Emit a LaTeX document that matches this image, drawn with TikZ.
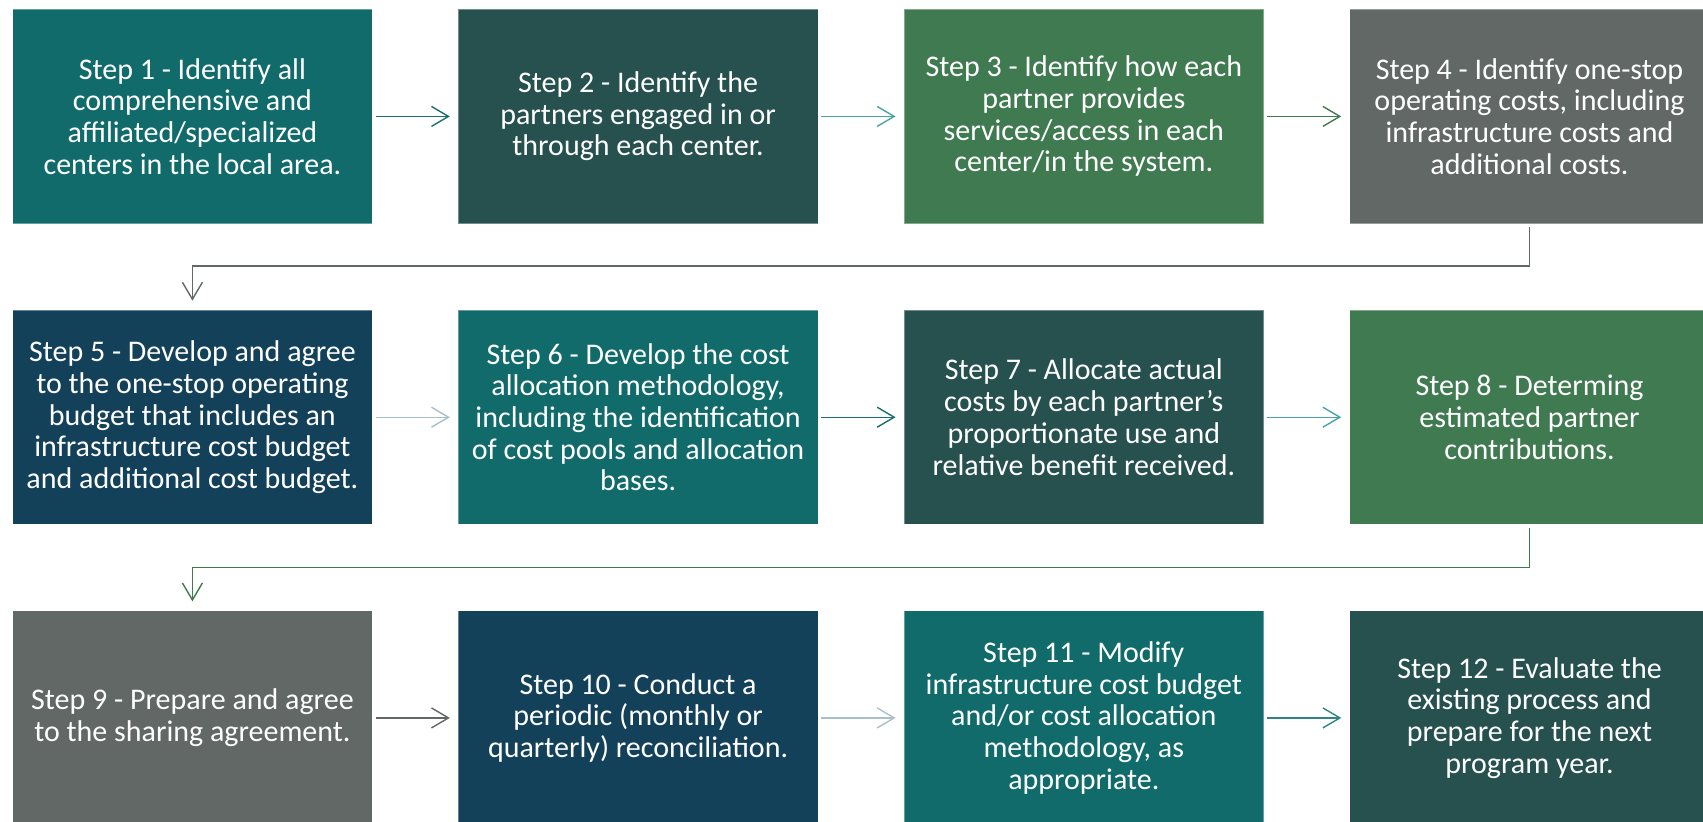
\documentclass[tikz,border=0pt]{standalone}
\usepackage{fontspec}
\setmainfont{Carlito}
\usetikzlibrary{arrows.meta}
\definecolor{cteal}{HTML}{116B6B}
\definecolor{cdteal}{HTML}{26514F}
\definecolor{cgreen}{HTML}{3F7A51}
\definecolor{cgray}{HTML}{616866}
\definecolor{cnavy}{HTML}{14415A}
\definecolor{aTeal}{HTML}{1A6E6E}
\definecolor{aLteal}{HTML}{4AA3A3}
\definecolor{aPale}{HTML}{A8C0C8}
\definecolor{aMid}{HTML}{2E8584}
\tikzset{
  stepbox/.style={rectangle, minimum width=359.7pt, minimum height=214.3pt, inner sep=0pt,
    text=white, align=center, font=\fontsize{30}{31.7}\selectfont,
    draw=white, draw opacity=0.35, line width=0.8pt},
  conn/.style={line width=1.4pt, -{Straight Barb[length=17pt,width=20pt,line width=1.4pt]}},
}
\begin{document}
\begin{tikzpicture}[x=1pt,y=-1pt]
\useasboundingbox (0,0) rectangle (1703,822);
% row 1 (center y 116.4)
\node[stepbox, fill=cteal] (s1) at (192.4,116.4) {Step 1 - Identify all\\comprehensive and\\affiliated/specialized\\centers in the local area.};
\node[stepbox, fill=cdteal] (s2) at (638.1,116.4) {Step 2 - Identify the\\partners engaged in or\\through each center.};
\node[stepbox, fill=cgreen] (s3) at (1083.8,116.4) {Step 3 - Identify how each\\partner provides\\services/access in each\\center/in the system.};
\node[stepbox, fill=cgray] (s4) at (1529.5,116.4) {Step 4 - Identify one-stop\\operating costs, including\\infrastructure costs and\\additional costs.};
% row 2 (center y 417.2)
\node[stepbox, fill=cnavy] (s5) at (192.4,417.2) {Step 5 - Develop and agree\\to the one-stop operating\\budget that includes an\\infrastructure cost budget\\and additional cost budget.};
\node[stepbox, fill=cteal] (s6) at (638.1,417.2) {Step 6 - Develop the cost\\allocation methodology,\\including the identification\\of cost pools and allocation\\bases.};
\node[stepbox, fill=cdteal] (s7) at (1083.8,417.2) {Step 7 - Allocate actual\\costs by each partner's\\proportionate use and\\relative benefit received.};
\node[stepbox, fill=cgreen] (s8) at (1529.5,417.2) {Step 8 - Determing\\estimated partner\\contributions.};
% row 3 (center y 717.9)
\node[stepbox, fill=cgray] (s9) at (192.4,717.9) {Step 9 - Prepare and agree\\to the sharing agreement.};
\node[stepbox, fill=cnavy] (s10) at (638.1,717.9) {Step 10 - Conduct a\\periodic (monthly or\\quarterly) reconciliation.};
\node[stepbox, fill=cteal] (s11) at (1083.8,717.9) {Step 11 - Modify\\infrastructure cost budget\\and/or cost allocation\\methodology, as\\appropriate.};
\node[stepbox, fill=cdteal] (s12) at (1529.5,717.9) {Step 12 - Evaluate the\\existing process and\\prepare for the next\\program year.};
% horizontal arrows
\draw[conn, aTeal] ([xshift=3pt]s1.east) -- ([xshift=-8pt]s2.west);
\draw[conn, aLteal] ([xshift=3pt]s2.east) -- ([xshift=-8pt]s3.west);
\draw[conn, cgreen] ([xshift=3pt]s3.east) -- ([xshift=-8pt]s4.west);
\draw[conn, aPale] ([xshift=3pt]s5.east) -- ([xshift=-8pt]s6.west);
\draw[conn, aTeal] ([xshift=3pt]s6.east) -- ([xshift=-8pt]s7.west);
\draw[conn, aLteal] ([xshift=3pt]s7.east) -- ([xshift=-8pt]s8.west);
\draw[conn, cgray] ([xshift=3pt]s9.east) -- ([xshift=-8pt]s10.west);
\draw[conn, aPale] ([xshift=3pt]s10.east) -- ([xshift=-8pt]s11.west);
\draw[conn, aMid] ([xshift=3pt]s11.east) -- ([xshift=-8pt]s12.west);
% row connectors
\coordinate (c4a) at ([yshift=-3pt]s4.south);
\coordinate (c4b) at (192.4,266);
\draw[conn, cgray] (c4a) |- (c4b) -- ([yshift=9pt]s5.north);
\coordinate (c8a) at ([yshift=-3pt]s8.south);
\coordinate (c8b) at (192.4,567.7);
\draw[conn, cgreen] (c8a) |- (c8b) -- ([yshift=9pt]s9.north);
\end{tikzpicture}
\end{document}
